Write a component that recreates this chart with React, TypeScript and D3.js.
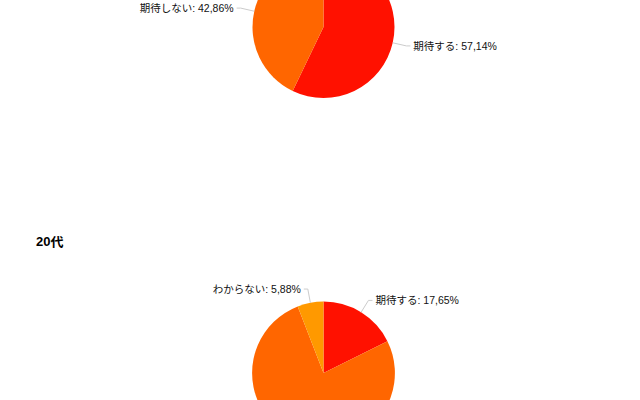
import React from "react";
import * as d3 from "d3";

const topLabels = ["期待する", "期待しない"];
const topValues = [57.14, 42.86];
const topColors = ["#ff1100", "#ff6600"];

const title20s = "20代";
const labels20s = ["期待する", "期待しない", "わからない"];
const values20s = [17.65, 76.47, 5.88];
const colors20s = ["#ff1100", "#ff6600", "#ff9900"];

const FONT = "'Liberation Sans', Arial, 'Noto Sans CJK JP', sans-serif";
const W = 640;
const H = 400;

type PieProps = {
  cx: number;
  cy: number;
  r: number;
  labels: string[];
  values: number[];
  colors: string[];
};

function Pie({ cx, cy, r, labels, values, colors }: PieProps) {
  const data = labels.map((l, i) => ({ label: l, value: values[i], color: colors[i] }));
  const pie = d3.pie<{ label: string; value: number; color: string }>().sort(null).value((d) => d.value);
  const arcs = pie(data);
  const arc = d3.arc<d3.PieArcDatum<any>>().innerRadius(0).outerRadius(r);
  const fmt = (v: number) => v.toFixed(2).replace(".", ",") + "%";
  return (
    <g transform={`translate(${cx},${cy})`}>
      {arcs.map((a, i) => (
        <path key={i} d={arc(a) || ""} fill={a.data.color} stroke="none" />
      ))}
      {arcs.map((a, i) => {
        const mid = (a.startAngle + a.endAngle) / 2;
        const sx = Math.sin(mid) * r;
        const sy = -Math.cos(mid) * r;
        const ex = Math.sin(mid) * (r + 14);
        const ey = -Math.cos(mid) * (r + 14);
        // labels lying outside the visible page are not drawn (cropped in the reference)
        if (cy + ey > H + 5 || cy + ey < -5) return null;
        const right = Math.sin(mid) >= 0;
        const hx = ex + (right ? 4 : -4);
        const tx = hx + (right ? 3 : -3);
        return (
          <g key={"l" + i}>
            <polyline
              points={`${sx},${sy} ${ex},${ey} ${hx},${ey}`}
              fill="none"
              stroke="#cccccc"
              strokeWidth={1}
            />
            <text
              x={tx}
              y={ey}
              textAnchor={right ? "start" : "end"}
              dominantBaseline="central"
              fontFamily={FONT}
              fontSize={10.5}
              fill="#111"
            >
              {a.data.label}: {fmt(a.data.value)}
            </text>
          </g>
        );
      })}
    </g>
  );
}

export default function App() {
  return (
    <svg
      width={W}
      height={H}
      style={{ position: "absolute", left: 0, top: 0, background: "#fff" }}
    >
      <rect width={W} height={H} fill="#fff" />
      <Pie cx={323.5} cy={27} r={71} labels={topLabels} values={topValues} colors={topColors} />
      <text x={36} y={241} dominantBaseline="central" fontFamily={FONT} fontSize={13} fontWeight="bold" fill="#000">
        {title20s}
      </text>
      <Pie cx={323.5} cy={373} r={71.4} labels={labels20s} values={values20s} colors={colors20s} />
    </svg>
  );
}
